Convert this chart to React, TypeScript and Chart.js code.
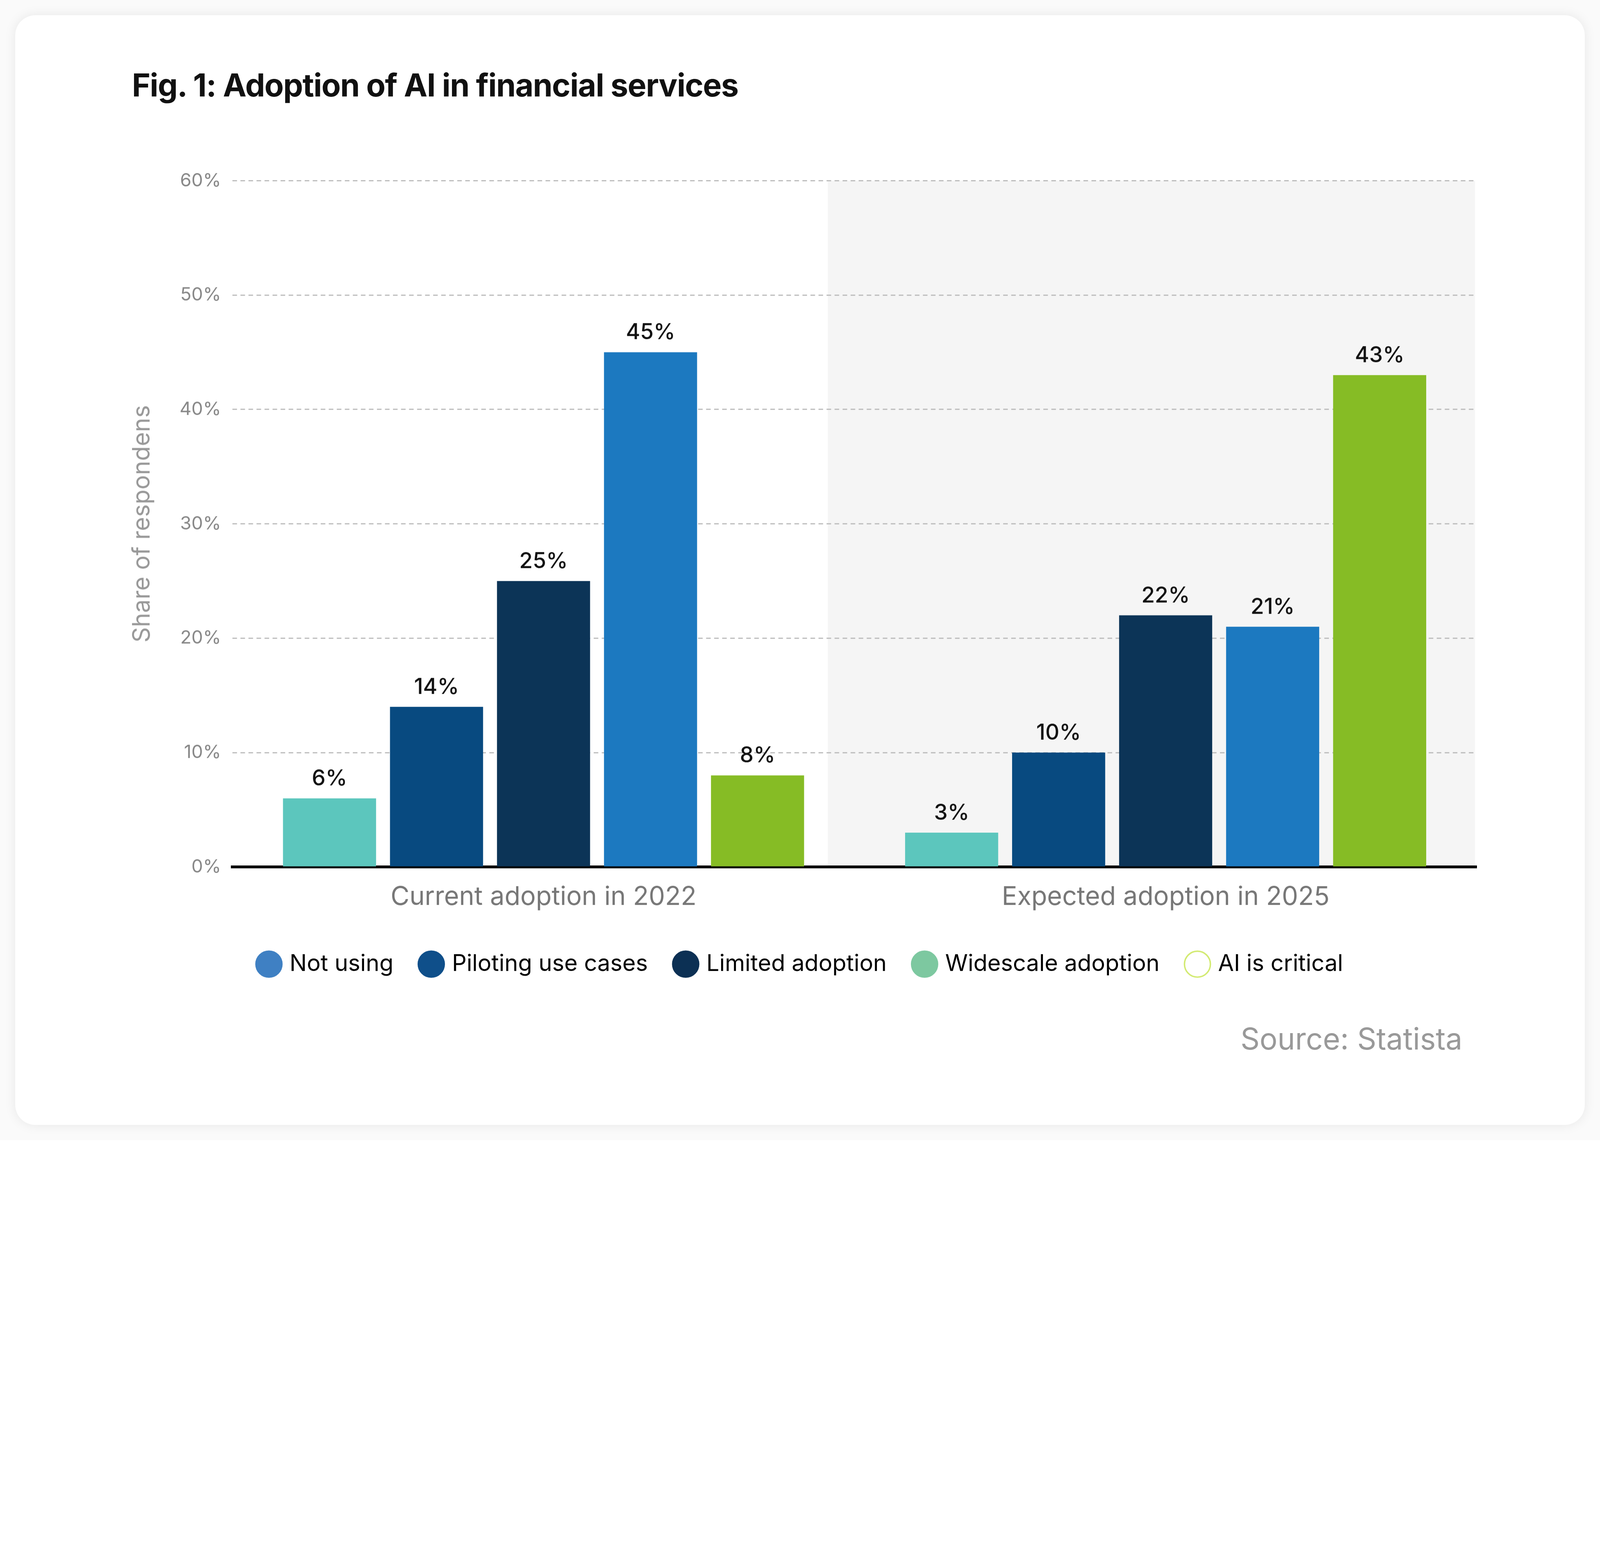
import React, { useEffect, useRef } from "react";
import { Chart, registerables } from "chart.js";
Chart.register(...registerables);

const categories = ["Current adoption in 2022", "Expected adoption in 2025"];
const seriesNames = ["Not using", "Piloting use cases", "Limited adoption", "Widescale adoption", "AI is critical"];
const notUsing = [6, 3];
const piloting = [14, 10];
const limited = [25, 22];
const widescale = [45, 21];
const critical = [8, 43];
const barColors = ["#5cc6bd", "#084a80", "#0c3457", "#1c79c0", "#86bc25"];
const legendFill = ["#3f80c3", "#0f4f8a", "#0c3054", "#7dc8a0", "#ffffff"];
const legendBorder = ["#3f80c3", "#0f4f8a", "#0c3054", "#7dc8a0", "#d2ea70"];
const yTicks = [0, 10, 20, 30, 40, 50, 60];

const FONT = "Inter, 'Noto Sans', sans-serif";
const U = (typeof window !== "undefined" ? window.innerWidth : 5580) / 5580;
const s = (v: number) => v * U;

const shadePlugin = {
  id: "shade",
  beforeDraw(chart: any) {
    const { ctx, chartArea, scales } = chart;
    const x = scales.x;
    const cw = x.getPixelForValue(1) - x.getPixelForValue(0);
    const left = x.getPixelForValue(1) - 0.543 * cw;
    ctx.save();
    ctx.fillStyle = "#f5f5f5";
    ctx.fillRect(left, chartArea.top, chartArea.right - s(6) - left, chartArea.bottom - chartArea.top);
    ctx.restore();
  },
};

const labelPlugin = {
  id: "vlabels",
  afterDatasetsDraw(chart: any) {
    const { ctx } = chart;
    ctx.save();
    ctx.fillStyle = "#111";
    ctx.font = `500 ${s(76)}px ${FONT}`;
    ctx.textAlign = "center";
    ctx.textBaseline = "bottom";
    chart.data.datasets.forEach((ds: any, i: number) => {
      chart.getDatasetMeta(i).data.forEach((bar: any, j: number) => {
        ctx.fillText(ds.data[j] + "%", bar.x, bar.y - s(30));
      });
    });
    ctx.restore();
  },
};

export default function App() {
  const ref = useRef<HTMLCanvasElement>(null);
  useEffect(() => {
    const all = [notUsing, piloting, limited, widescale, critical];
    const chart = new Chart(ref.current!, {
      type: "bar",
      data: {
        labels: categories,
        datasets: all.map((d, i) => ({
          label: seriesNames[i],
          data: d,
          backgroundColor: barColors[i],
          categoryPercentage: 0.86,
          barPercentage: 0.87,
        })),
      },
      options: {
        animation: false,
        responsive: false,
        layout: { padding: { left: s(440), top: s(630), right: s(430), bottom: s(560) } },
        scales: {
          y: {
            min: 0,
            max: 60,
            afterBuildTicks: (sc: any) => { sc.ticks = yTicks.map((v) => ({ value: v })); },
            ticks: { callback: (v: any) => v + "%", color: "#888", font: { family: FONT, size: s(64) }, padding: s(40) },
            grid: { color: "#bbbbbb", lineWidth: s(4), drawTicks: false },
            border: { display: false, dash: [s(16), s(12)] },
            title: { display: true, text: "Share of respondens", color: "#999", font: { family: FONT, size: s(84) }, padding: { bottom: s(40) } },
          },
          x: {
            ticks: { color: "#777", font: { family: FONT, size: s(90) }, padding: s(40) },
            grid: { display: false },
            border: { color: "#000", width: s(10) },
          },
        },
        plugins: {
          tooltip: { enabled: false },
          legend: {
            position: "bottom",
            labels: {
              font: { family: FONT, size: s(80) },
              color: "#222",
              usePointStyle: true,
              pointStyle: "circle",
              boxWidth: s(64),
              boxHeight: s(64),
              padding: s(100),
              generateLabels: () =>
                seriesNames.map((n, i) => ({
                  text: n,
                  fillStyle: legendFill[i],
                  strokeStyle: legendBorder[i],
                  lineWidth: s(5),
                  pointStyle: "circle",
                  datasetIndex: i,
                  hidden: false,
                })) as any,
            },
          },
        },
      },
      plugins: [shadePlugin, labelPlugin],
    });
    return () => chart.destroy();
  }, []);
  return (
    <div style={{ position: "absolute", left: 0, top: 0, width: s(5580), height: s(3976), background: "#fafafa", fontFamily: FONT, overflow: "hidden" }}>
      <div style={{ position: "absolute", left: s(53), top: s(53), width: s(5474), height: s(3870), background: "#fff", borderRadius: s(70), boxShadow: `0 0 ${s(40)}px rgba(0,0,0,0.08)` }} />
      <canvas ref={ref} width={s(5580)} height={s(3976)} style={{ position: "absolute", left: 0, top: 0, width: s(5580), height: s(3976) }} />
      <div style={{ position: "absolute", left: s(460), top: s(230), fontSize: s(110), fontWeight: 700, color: "#111", letterSpacing: s(-2), whiteSpace: "nowrap" }}>
        Fig. 1: Adoption of AI in financial services
      </div>
      <div style={{ position: "absolute", right: s(480), top: s(3560), fontSize: s(104), color: "#999", whiteSpace: "nowrap" }}>Source: Statista</div>
    </div>
  );
}
